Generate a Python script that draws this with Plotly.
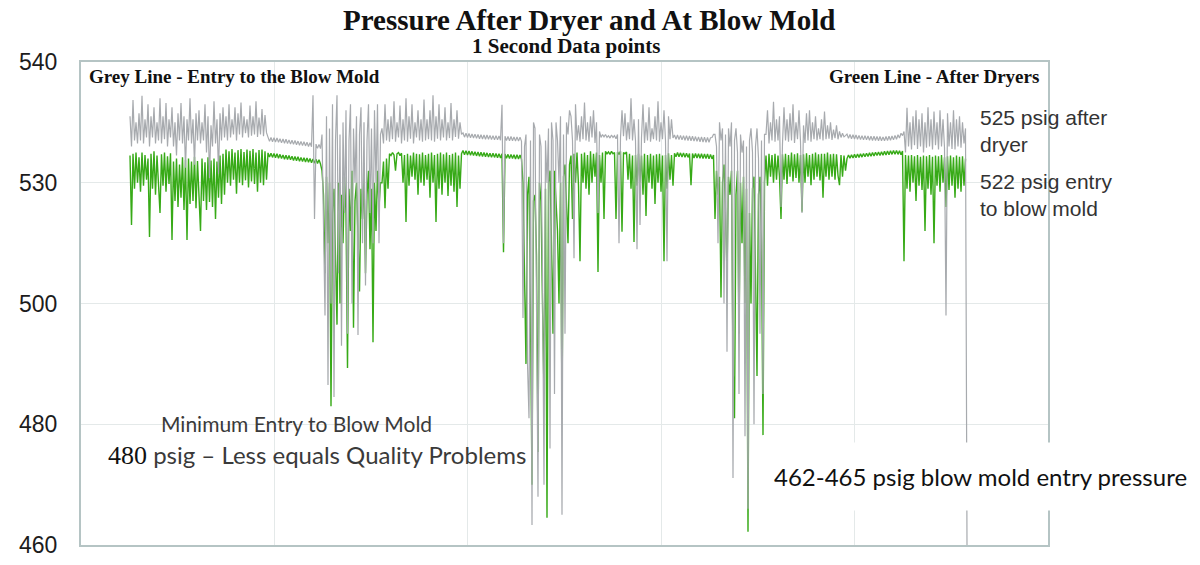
import plotly.graph_objects as go

# ---------------- data (1-second samples) ----------------
# sample index at which each segment of the record starts
seg_start = [0, 92, 128, 168, 222, 262, 294, 390, 424, 478, 516]

# Green line - After Dryers (psig)
green_A = [524.5, 513, 524.8, 519, 525, 520, 524.2, 518.5, 525, 519.5, 524.6, 520.5, 524, 511,
           524.8, 519, 525.2, 518, 524.5, 520, 515, 524.7, 519.5, 525, 518.5, 524.4, 519.8, 524.9,
           510.5, 523.5, 517, 524, 516, 523, 517.5, 524.2, 515.5, 523.8, 510.5, 524, 516.5, 523.5,
           517, 524.3, 515.8, 523.6, 516.2, 512, 524, 517, 523.4, 515.5, 524.2, 516.8, 523.7, 516,
           524, 514, 523.5, 517.5, 524.5, 516.5, 524.8, 518,
           525.5, 520, 525.2, 519.5, 525.6, 520.5, 525, 518.2, 525.4, 520, 525.6, 519.6, 525.1, 520.4,
           525.5, 519.2, 525.3, 520.2, 525.6, 519.8, 525, 518.5, 525.4, 520, 525.5, 519.6, 525.2, 520.5]
green_B = [524.95, 524.25, 524.9, 524.2, 524.85, 524.15, 524.8, 524.05, 524.7, 524.0,
           524.6, 523.9, 524.55, 523.85, 524.5, 523.8, 524.4, 523.7, 524.35, 523.65,
           524.3, 523.55, 524.2, 523.5, 524.15, 523.45, 524.1, 523.4, 524.0, 523.3,
           523.95, 523.25, 523.9, 523.2, 523.8, 523.1]
green_C = [522, 518, 505, 521, 510, 520, 483, 515, 519, 505, 496.5, 520, 500, 518,
           510, 521, 515, 489.3, 519, 512, 522, 496, 517, 520, 508, 502, 519, 514,
           521, 505, 518, 522, 509, 519, 493.6, 520, 512, 522, 516, 520]
green_D = [520, 523.5, 515.8, 524, 519, 524.8, 524.5, 525, 524.6, 522, 524.8, 525, 524.5, 524.9,
           520, 524.6, 513.5, 524.8, 519.5, 524.5, 521, 525, 520.5, 524.8, 518, 524.7, 520, 525,
           519.5, 524.6, 520.5, 524.8, 517.5, 525, 520, 524.6, 513.5, 524.8, 519, 525, 518, 524.7,
           520, 525, 517.8, 524.6, 519.5, 524.8, 518.5, 525, 516, 524.5, 519, 524.8]
green_E = [525.35, 524.65, 525.3, 524.6, 525.25, 524.55, 525.2, 524.5, 525.15, 524.45,
           525.1, 524.4, 525.05, 524.35, 525.0, 524.3, 524.95, 524.25, 524.9, 524.2,
           524.9, 524.2, 524.85, 524.15, 524.8, 524.1, 524.8, 508.5, 524.75, 524.05,
           524.7, 524.0, 524.7, 524.0, 524.65, 523.95, 524.65, 523.95, 524.6, 523.9]
green_F = [520, 505, 490, 518, 521, 498, 470, 517, 518, 508, 475.4, 520, 517, 500, 485, 519,
           464.5, 520, 522, 510, 495, 522, 518, 512, 500, 520, 482.7, 521, 523, 515, 510, 523]
green_G = [524.5, 514, 524.8, 520, 525, 519.5, 507, 524.8, 520, 525, 519, 524.6, 518, 525.2,
           520, 524.8, 521, 525, 505.2, 524.6, 520, 525, 514, 525.2, 524.8, 525.1, 524.7, 525.2,
           524.8, 525, 514, 525.1, 524.7, 525.2, 511.9, 525, 524.8, 525.1, 520.5, 524.8, 519, 524.5,
           510.2, 524.6, 519.5, 524.8, 520, 524.5, 518, 524.8, 514.5, 524.6, 520, 524.8, 519, 524.5,
           516.5, 524.7, 520, 524.8, 518.5, 524.5, 507, 524.6, 519, 524.9, 520.5, 524.6, 519.5, 524.9,
           524.3, 525.0, 524.3, 524.95, 524.25, 524.95, 524.2, 524.9, 524.2, 524.85, 519.6, 524.85, 524.1, 524.85,
           524.1, 524.8, 524.05, 524.8, 524.0, 524.75, 524.0, 524.75, 523.95, 524.7, 523.95, 524.6]
green_H = [514, 522, 518, 521, 501, 520, 523, 515, 505, 521, 518, 522, 490, 481, 518, 522, 495,
           520, 510, 521, 500, 519, 462.2, 515, 500, 519, 521, 505, 488, 518, 521, 510, 478.2, 520]
green_I = [524.5, 519.5, 524.8, 521, 524.6, 520, 524.8, 520.5, 524.5, 521, 514, 524.7, 520.5, 524.8,
           519.8, 524.6, 521, 525, 520.2, 524.7, 520.8, 524.9, 520, 524.6, 515.2, 524.7, 520, 524.9,
           521, 524.6, 519.6, 524.8, 520.5, 525, 521, 524.7, 520.4, 524.8, 517.5, 524.8, 521, 525,
           520.5, 524.7, 521, 524.8, 520.5, 524.7, 521.2, 519.6, 524.6, 521, 524.5, 522]
green_J = [524.0, 524.6, 524.05, 524.65, 524.1, 524.7, 524.15, 524.75, 524.2, 524.8,
           524.25, 524.85, 524.3, 524.9, 524.35, 524.95, 524.4, 525.0, 524.45, 525.05,
           524.5, 525.1, 524.5, 525.15, 524.55, 525.2, 524.6, 525.25, 524.65, 525.3,
           524.7, 525.35, 524.7, 525.35, 524.7, 525.3, 524.65, 525.25]
green_K = [507, 524.6, 519, 524.5, 518.5, 524.6, 520, 524.4, 517, 524.6, 519.5, 524.3, 518.8, 524.5,
           512, 524.4, 519, 524.6, 518, 524.3, 510, 524.5, 519.5, 524.4, 518.5, 524.6, 520, 524.2,
           516, 524.4, 518.8, 524.5, 519.5, 524.2, 517.5, 524.5, 519, 524.3, 518.5, 524.4, 519.5, 524]

# Grey line - Entry to the Blow Mold (psig)
grey_A = [531, 526, 533.7, 527, 530, 526.5, 531.5, 527, 534.4, 526.5, 530.5, 527.5, 533, 526,
          531, 527.5, 532.5, 526.5, 530, 527, 534, 526.5, 531, 527.2, 533.2, 526, 530.5, 527.5,
          532.5, 526, 530, 524.5, 531.5, 527, 533.2, 526.5, 531, 522.5, 530.5, 527, 534, 526.5,
          530.5, 523, 531.5, 527, 532, 526.5, 530, 527, 533, 525, 531, 520.8, 529.5, 526,
          533.5, 526.5, 530.5, 521.5, 531.5, 527, 532.5, 527.5,
          531, 527, 533, 527.5, 530.5, 528, 532.5, 527, 531.5, 528, 533.3, 527.5, 531, 528.2,
          530.5, 527.5, 532.8, 527.8, 531, 528, 533.5, 527.6, 530.8, 528, 532.2, 527.7, 531.2, 528.3]
grey_B = [527.55, 526.85, 527.5, 526.8, 527.45, 526.75, 527.4, 526.7, 527.3, 526.6,
          527.25, 526.55, 527.2, 526.5, 527.1, 526.4, 527.05, 526.35, 527.0, 526.3,
          526.9, 526.2, 526.85, 526.15, 526.8, 526.1, 526.7, 526.0, 526.65, 525.95,
          534.5, 514, 526.4, 525.7, 526.35, 525.65]
grey_C = [528, 510, 498, 531, 486.5, 529, 500, 533, 484.5, 527, 534.5, 505, 528, 493,
          530, 515, 532, 495, 527, 533, 500, 529, 520, 531, 494.8, 528, 532.5, 510,
          530, 503, 527, 533, 515, 529, 510, 532, 520, 533, 510, 528]
grey_D = [529, 526.5, 533, 527, 530.5, 526.8, 531, 527.2, 533.5, 526.8, 530, 527.5, 532.8, 526.5,
          530.5, 527, 534, 526.8, 531, 527.3, 533, 526.5, 530, 527.5, 532, 527, 530.5, 526.8,
          533.8, 527, 530.5, 527.2, 532, 527, 534.5, 526.8, 531, 527.3, 533, 527, 530.5, 527.5,
          532.5, 527, 530, 527.4, 533.2, 527, 530.5, 527.6, 532, 527.3, 530, 528]
grey_E = [528.25, 527.55, 528.2, 527.5, 528.15, 527.45, 528.1, 527.4, 528.05, 527.35,
          528.0, 527.3, 527.95, 527.25, 527.9, 527.2, 527.9, 527.2, 527.85, 527.15,
          527.8, 527.1, 527.8, 527.1, 527.75, 527.05, 532.9, 510, 527.7, 527.0,
          527.65, 526.95, 527.65, 526.95, 527.6, 526.9, 527.6, 526.9, 527.55, 526.85]
grey_F = [497.6, 526, 528, 490, 481, 527, 463.3, 530, 529, 500, 468, 528, 526, 505, 470, 527,
          520, 529, 476, 530, 527, 485, 530, 527, 520, 531, 465, 528, 495, 530, 528, 532]
grey_G = [531, 527, 507.5, 533, 527, 529.5, 526.8, 531, 527.2, 533.3, 527, 530, 526.8, 531,
          527.5, 532, 526.6, 530, 515, 528.5, 527.5, 528, 527.6, 528, 527.5, 527.8, 527.4, 527.9,
          527.5, 527.8, 527.3, 528, 510, 527.5, 532, 527.7, 531.5, 527, 530, 527.2, 534, 527,
          530.5, 527, 509, 530.5, 513, 527.5, 533, 526.6, 530, 527, 532.5, 526.8, 529, 527.2,
          531, 527, 533.5, 526.8, 530, 527.2, 532, 527, 507, 531, 527.2, 530.5, 527.4, 527.9,
          527.2, 527.9, 527.15, 527.85, 527.1, 527.8, 527.05, 527.8, 527.0, 527.75, 526.95, 527.7, 526.9, 527.65,
          526.85, 527.6, 526.8, 527.6, 526.75, 527.55, 526.7, 527.5, 526.7, 527.45, 527.5, 528]
grey_H = [528, 526, 510, 530, 527, 529, 500, 528, 492, 529, 526, 530, 471.1, 527, 529, 525, 485,
          528, 525, 527, 478, 526, 466, 527, 529, 525, 480, 526, 529, 524, 495, 527, 485, 528]
grey_I = [528, 532, 526.5, 530, 527, 533.4, 526.8, 530.5, 527, 531, 516, 526.5, 532.5, 527,
          530.5, 526.8, 531.5, 527, 533, 526.6, 530, 527.2, 532, 526.8, 515, 529.5, 526.6, 531.5,
          527, 532, 526.8, 530, 527.2, 531, 527, 529, 527.2, 530.5, 527, 531.8, 527.2, 529.5,
          527.3, 530, 527.1, 528.8, 527.4, 529.5, 527.2, 528.5, 527.5, 528.2, 527.6, 527.8]
grey_J = [528.05, 527.35, 528.0, 527.3, 527.95, 527.25, 527.9, 527.2, 527.85, 527.15,
          527.8, 527.1, 527.8, 527.1, 527.75, 527.05, 527.7, 527.0, 527.7, 527.0,
          527.65, 526.95, 527.65, 526.95, 527.6, 526.95, 527.65, 527.0, 527.7, 527.05,
          527.75, 527.1, 527.85, 527.2, 527.95, 527.4, 528.2, 527.8]
grey_K = [528.5, 525, 532.4, 526, 530, 525.5, 531, 526.2, 532, 525.6, 530.5, 526, 531.5, 525,
          530, 525.8, 532.5, 526, 530.5, 525.5, 531.8, 526.2, 530, 525.5, 532, 526, 530.5, 525.8,
          498, 531.5, 526, 530, 525.6, 532, 525.5, 530.5, 526, 531, 525.8, 530, 526.5, 529,
          460]

green_segs = [green_A, green_B, green_C, green_D, green_E, green_F, green_G, green_H, green_I, green_J, green_K]
grey_segs = [grey_A, grey_B, grey_C, grey_D, grey_E, grey_F, grey_G, grey_H, grey_I, grey_J, grey_K]


def series(segs):
    t, v = [], []
    for s0, seg in zip(seg_start, segs):
        for k, val in enumerate(seg):
            t.append(s0 + k)
            v.append(val)
    return t, v


t_green, green = series(green_segs)
t_grey, grey = series(grey_segs)

y_tickvals = [460, 480, 500, 520, 540]
y_ticktext = ["460", "480", "500", "530", "540"]

# ---------------- figure ----------------
fig = go.Figure()
fig.add_trace(go.Scatter(x=t_green, y=green, mode="lines", name="Green Line - After Dryers",
                         line=dict(color="#37aa17", width=1.4), hoverinfo="skip"))
fig.add_trace(go.Scatter(x=t_grey, y=grey, mode="lines", name="Grey Line - Entry to the Blow Mold",
                         line=dict(color="#a7aaae", width=1.2), hoverinfo="skip"))

L, R, T, B = 81, 1048, 62, 545
W, H = 1200, 565


def px(x):
    return (x - L) / (R - L)


def py(y):
    return (B - y) / (B - T)


frame = "#b5c4c4"
grid = "#e4e9e9"

fig.update_layout(
    width=W, height=H,
    margin=dict(l=L, r=W - R, t=T, b=H - B, pad=0),
    paper_bgcolor="white", plot_bgcolor="white",
    showlegend=False,
    xaxis=dict(range=[-32.667, 612.0], tick0=-32.667, dtick=128.933, showticklabels=False,
               showgrid=True, gridcolor=grid, gridwidth=1, zeroline=False, automargin=False,
               showline=True, mirror=True, linecolor=frame, linewidth=2, ticks=""),
    yaxis=dict(range=[460, 540], tickvals=y_tickvals, ticktext=y_ticktext,
               showgrid=True, gridcolor=grid, gridwidth=1, zeroline=False, automargin=False,
               showline=True, mirror=True, linecolor=frame, linewidth=2, ticks="",
               ticklabelstandoff=17,
               tickfont=dict(family="Liberation Sans, Arial", size=23, color="#1c1c1c")),
)

serif = "Liberation Serif, Times New Roman, serif"
sans = "Lato, Open Sans, sans-serif"
arial = "Liberation Sans, Arial, sans-serif"

ann = [
    dict(text="<b>Pressure After Dryer and At Blow Mold</b>", x=px(589), y=py(20),
         font=dict(family=serif, size=29, color="#111"), xanchor="center", yanchor="middle"),
    dict(text="<b>1 Second Data points</b>", x=px(566), y=py(46),
         font=dict(family=serif, size=21, color="#111"), xanchor="center", yanchor="middle"),
    dict(text="<b>Grey Line - Entry to the Blow Mold</b>", x=px(87), y=py(77),
         font=dict(family=serif, size=19, color="#111"), xanchor="left", yanchor="middle"),
    dict(text="<b>Green Line - After Dryers</b>", x=px(1041), y=py(77),
         font=dict(family=serif, size=19, color="#111"), xanchor="right", yanchor="middle"),
    dict(text="525 psig after<br>dryer", x=px(978), y=py(131), align="left",
         font=dict(family=arial, size=21, color="#333"), xanchor="left", yanchor="middle"),
    dict(text="522 psig entry<br>to blow mold", x=px(978), y=py(195), align="left",
         font=dict(family=arial, size=21, color="#333"), xanchor="left", yanchor="middle"),
    dict(text="Minimum Entry to Blow Mold", x=px(296), y=py(423),
         font=dict(family=sans, size=21, color="#3a3a3a"), xanchor="center", yanchor="middle"),
    dict(text="<span style='font-family:Liberation Serif;color:#111;font-size:26px'>480</span> psig \u2013 Less equals Quality Problems",
         x=px(317), y=py(455),
         font=dict(family=sans, size=24, color="#3a3a3a"), xanchor="center", yanchor="middle"),
    dict(text="462-465 psig blow mold entry pressure", x=px(980), y=py(476),
         font=dict(family=sans, size=24, color="#111"), xanchor="center", yanchor="middle",
         bgcolor="white", borderpad=19),
]
for a in ann:
    a.update(xref="paper", yref="paper", showarrow=False)
fig.update_layout(annotations=ann)

fig.write_html("out.html")
